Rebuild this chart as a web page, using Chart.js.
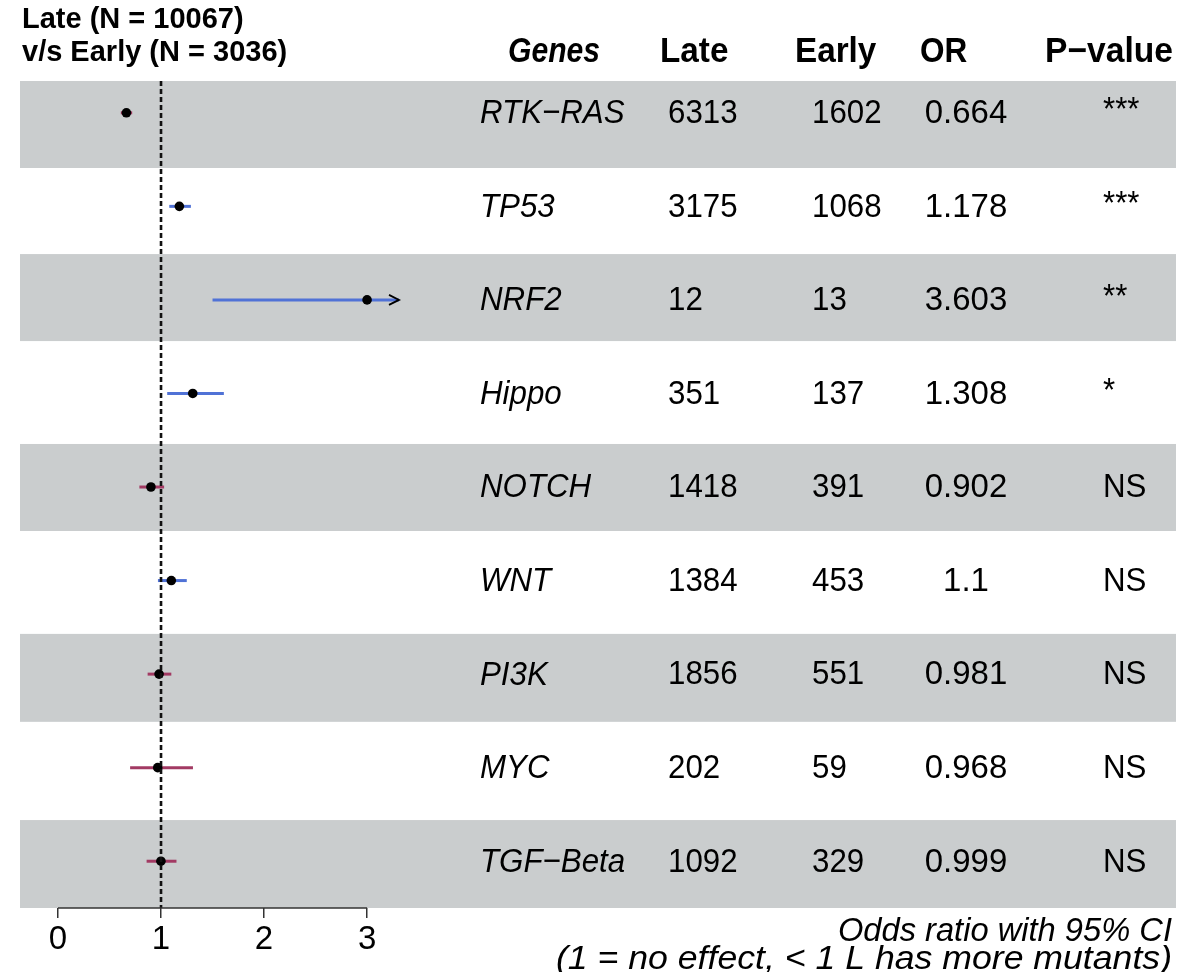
<!DOCTYPE html>
<html>
<head>
<meta charset="utf-8">
<title>Late vs Early forest plot</title>
<script src="https://cdn.jsdelivr.net/npm/chart.js@4.4.1/dist/chart.umd.min.js"></script>
<style>
  html, body { margin: 0; padding: 0; background: #fff; }
  #wrap { width: 1202px; height: 972px; position: relative; }
</style>
</head>
<body>
<div id="wrap"><canvas id="forest-chart"></canvas></div>
<script>
const genes = ['RTK−RAS', 'TP53', 'NRF2', 'Hippo', 'NOTCH', 'WNT', 'PI3K', 'MYC', 'TGF−Beta'];
const lateCounts = [6313, 3175, 12, 351, 1418, 1384, 1856, 202, 1092];
const earlyCounts = [1602, 1068, 13, 137, 391, 453, 551, 59, 329];
const oddsRatios = [0.664, 1.178, 3.603, 1.308, 0.902, 1.1, 0.981, 0.968, 0.999];
const ciLow = [0.61, 1.08, 1.50, 1.06, 0.79, 0.97, 0.87, 0.70, 0.86];
const ciHigh = [0.72, 1.29, 8.65, 1.61, 1.03, 1.25, 1.10, 1.31, 1.15];
const pLabels = ['***', '***', '**', '*', 'NS', 'NS', 'NS', 'NS', 'NS'];
const xTicks = [0, 1, 2, 3];

const FONT = '"Liberation Sans", Arial, Helvetica, sans-serif';
const BLUE = '#5072d6';
const MAROON = '#a23a63';
const BAND = '#cacdce';

const xMax = 3.31;              // right end of the plotting area
const pointClip = 3;            // boxes past the last tick sit on it
const yMin = 0.66, yMax = 9.5;  // row 1 at the top, row 9 at the bottom

// shaded stripes behind every other row, in row units
const bands = [[0.66, 1.59], [2.51, 3.44], [4.54, 5.47], [6.57, 7.51], [8.56, 9.5]];

const rowY = genes.map((g, i) => i + 1);

const datasets = [];

// dotted no-effect line at OR = 1
datasets.push({
    data: [{ x: 1, y: yMin }, { x: 1, y: yMax }],
    showLine: true,
    borderColor: '#111',
    borderWidth: 2.6,
    borderDash: [5, 3],
    pointRadius: 0,
    order: 0
});

// confidence interval segments
genes.forEach((g, i) => {
    datasets.push({
        data: [{ x: ciLow[i], y: rowY[i] }, { x: Math.min(ciHigh[i], xMax), y: rowY[i] }],
        showLine: true,
        borderColor: oddsRatios[i] < 1 ? MAROON : BLUE,
        borderWidth: 3,
        pointRadius: 0,
        order: 2
    });
});

// odds ratio points
datasets.push({
    data: genes.map((g, i) => ({ x: Math.min(oddsRatios[i], pointClip), y: rowY[i] })),
    backgroundColor: '#000',
    borderColor: '#000',
    pointRadius: 4.8,
    pointBorderWidth: 0,
    order: 1
});

function drawText(ctx, text, x, y, font, align, sx) {
    ctx.save();
    ctx.font = font;
    ctx.textAlign = align;
    ctx.textBaseline = 'middle';
    ctx.fillStyle = '#000';
    ctx.translate(x, y);
    ctx.scale(sx, 1);
    ctx.fillText(text, 0, 0);
    ctx.restore();
}

const bandPlugin = {
    id: 'rowBands',
    beforeDraw(chart) {
        const ctx = chart.ctx;
        const y = chart.scales.y;
        ctx.save();
        ctx.fillStyle = BAND;
        bands.forEach(([a, b]) => {
            const top = Math.min(y.getPixelForValue(a), y.getPixelForValue(b));
            const bot = Math.max(y.getPixelForValue(a), y.getPixelForValue(b));
            ctx.fillRect(20, top, 1156, bot - top);
        });
        ctx.restore();
    }
};

const decorPlugin = {
    id: 'forestDecor',
    afterDraw(chart) {
        const ctx = chart.ctx;
        const x = chart.scales.x;
        const y = chart.scales.y;
        const area = chart.chartArea;

        // axis line between first and last tick
        ctx.save();
        ctx.strokeStyle = '#333';
        ctx.lineWidth = 1.5;
        ctx.beginPath();
        ctx.moveTo(x.getPixelForValue(xTicks[0]), area.bottom);
        ctx.lineTo(x.getPixelForValue(xTicks[xTicks.length - 1]), area.bottom);
        ctx.stroke();

        // open arrow head where an interval runs off the axis
        ctx.strokeStyle = '#000';
        ctx.lineWidth = 1.8;
        genes.forEach((g, i) => {
            if (ciHigh[i] <= xMax) return;
            const px = x.getPixelForValue(xMax);
            const py = y.getPixelForValue(rowY[i]);
            ctx.beginPath();
            ctx.moveTo(px - 10, py - 5);
            ctx.lineTo(px, py);
            ctx.lineTo(px - 10, py + 5);
            ctx.stroke();
        });
        ctx.restore();

        // title block
        const titleFont = 'bold 29px ' + FONT;
        drawText(ctx, 'Late (N = 10067)', 22, 20, titleFont, 'left', 1);
        drawText(ctx, 'v/s Early (N = 3036)', 22, 53, titleFont, 'left', 1);

        // column headers
        const headFont = 'bold 35px ' + FONT;
        drawText(ctx, 'Genes', 508, 52, 'italic ' + headFont, 'left', 0.86);
        drawText(ctx, 'Late', 660, 52, headFont, 'left', 0.95);
        drawText(ctx, 'Early', 795, 52, headFont, 'left', 0.95);
        drawText(ctx, 'OR', 920, 52, headFont, 'left', 0.9);
        drawText(ctx, 'P−value', 1045, 52, headFont, 'left', 0.96);

        // table rows
        const rowFont = '34px ' + FONT;
        genes.forEach((g, i) => {
            const py = y.getPixelForValue(rowY[i]) + 1;
            drawText(ctx, g, 480, py, 'italic ' + rowFont, 'left', 0.92);
            drawText(ctx, String(lateCounts[i]), 668, py, rowFont, 'left', 0.92);
            drawText(ctx, String(earlyCounts[i]), 812, py, rowFont, 'left', 0.92);
            drawText(ctx, String(oddsRatios[i]), 966, py, rowFont, 'center', 0.97);
            const star = pLabels[i] !== 'NS';
            drawText(ctx, pLabels[i], 1103, star ? py - 3 : py, rowFont, 'left', 0.92);
        });

        // footnote
        const noteFont = 'italic 33px ' + FONT;
        drawText(ctx, 'Odds ratio with 95% CI', 1172, 932, noteFont, 'right', 0.99);
        drawText(ctx, '(1 = no effect, < 1 L has more mutants)', 1172, 960, noteFont, 'right', 1.08);
    }
};

new Chart(document.getElementById('forest-chart'), {
    type: 'scatter',
    data: { datasets: datasets },
    options: {
        responsive: true,
        maintainAspectRatio: false,
        animation: false,
        layout: {
            padding: { left: 58, right: 803, top: 81, bottom: 0 }
        },
        plugins: {
            legend: { display: false },
            tooltip: { enabled: false }
        },
        scales: {
            x: {
                type: 'linear',
                min: 0,
                max: xMax,
                afterBuildTicks: scale => {
                    scale.ticks = xTicks.map(v => ({ value: v }));
                },
                afterFit: scale => {
                    scale.height = 64;
                },
                border: { display: false },
                grid: {
                    drawOnChartArea: false,
                    drawTicks: true,
                    tickLength: 10,
                    color: '#333',
                    lineWidth: 1.5
                },
                ticks: {
                    color: '#000',
                    padding: 2,
                    maxRotation: 0,
                    font: { family: FONT, size: 33 }
                }
            },
            y: {
                type: 'linear',
                min: yMin,
                max: yMax,
                reverse: true,
                display: false
            }
        }
    },
    plugins: [bandPlugin, decorPlugin]
});
</script>
</body>
</html>
